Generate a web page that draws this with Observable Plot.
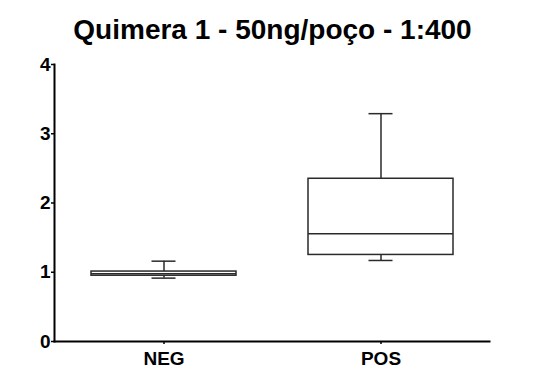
<!DOCTYPE html>
<html>
<head>
<meta charset="utf-8">
<script src="https://cdn.jsdelivr.net/npm/d3@7"></script>
<script src="https://cdn.jsdelivr.net/npm/@observablehq/plot@0.6"></script>
<style>
  body { margin: 0; background: #fff; font-family: "Liberation Sans", Arial, sans-serif; }
  #wrap { width: 542px; height: 378px; position: relative; }
  #title { height: 39px; padding-top: 16px; padding-left: 3px; font-size: 28px; line-height: 28px; font-weight: bold; text-align: center; color: #000; }
  svg { display: block; }
</style>
</head>
<body>
<div id="wrap">
  <div id="title">Quimera 1 - 50ng/poço - 1:400</div>
  <div id="chart"></div>
</div>
<script>
const categories = ["NEG", "POS"];
const minima = [0.915, 1.17];
const lowerQuartiles = [0.95, 1.25];
const medians = [0.98, 1.555];
const upperQuartiles = [1.01, 2.35];
const maxima = [1.16, 3.29];
const yTicks = [0, 1, 2, 3, 4];

const rows = categories.map((c, i) => ({
  cat: c, min: minima[i], q1: lowerQuartiles[i], med: medians[i], q3: upperQuartiles[i], max: maxima[i]
}));

const boxStroke = "#2a2a2a";
const capInset = 60.5;

const chart = Plot.plot({
  width: 542,
  height: 323,
  marginLeft: 54,
  marginRight: 53,
  marginTop: 9,
  marginBottom: 37,
  style: { fontFamily: "Liberation Sans, Arial, sans-serif", background: "#fff", color: "#000" },
  x: { type: "band", domain: categories, paddingInner: 1/3, paddingOuter: 1/6, label: null },
  y: { domain: [0, 4], label: null },
  marks: [
    Plot.ruleX(rows, { x: "cat", y1: "min", y2: "q1", stroke: boxStroke, strokeWidth: 1.5 }),
    Plot.ruleX(rows, { x: "cat", y1: "q3", y2: "max", stroke: boxStroke, strokeWidth: 1.5 }),
    Plot.tickY(rows, { x: "cat", y: "min", stroke: boxStroke, strokeWidth: 1.5, insetLeft: capInset, insetRight: capInset }),
    Plot.tickY(rows, { x: "cat", y: "max", stroke: boxStroke, strokeWidth: 1.5, insetLeft: capInset, insetRight: capInset }),
    Plot.barY(rows, { x: "cat", y1: "q1", y2: "q3", fill: "#fff", stroke: boxStroke, strokeWidth: 1.5 }),
    Plot.tickY(rows, { x: "cat", y: "med", stroke: boxStroke, strokeWidth: 1.5 }),
    Plot.axisY({ ticks: yTicks, tickFormat: d3.format("d"), tickSize: 3, tickPadding: 1, fontSize: 19, fontWeight: "bold", strokeWidth: 1.5, label: null }),
    Plot.axisX({ tickSize: 3, tickPadding: 7, fontSize: 19, fontWeight: "bold", strokeWidth: 1.5, label: null }),
    Plot.frame({ anchor: "left", stroke: "#000", strokeWidth: 2 }),
    Plot.frame({ anchor: "bottom", stroke: "#000", strokeWidth: 2 })
  ]
});
document.getElementById("chart").appendChild(chart);
</script>
</body>
</html>
